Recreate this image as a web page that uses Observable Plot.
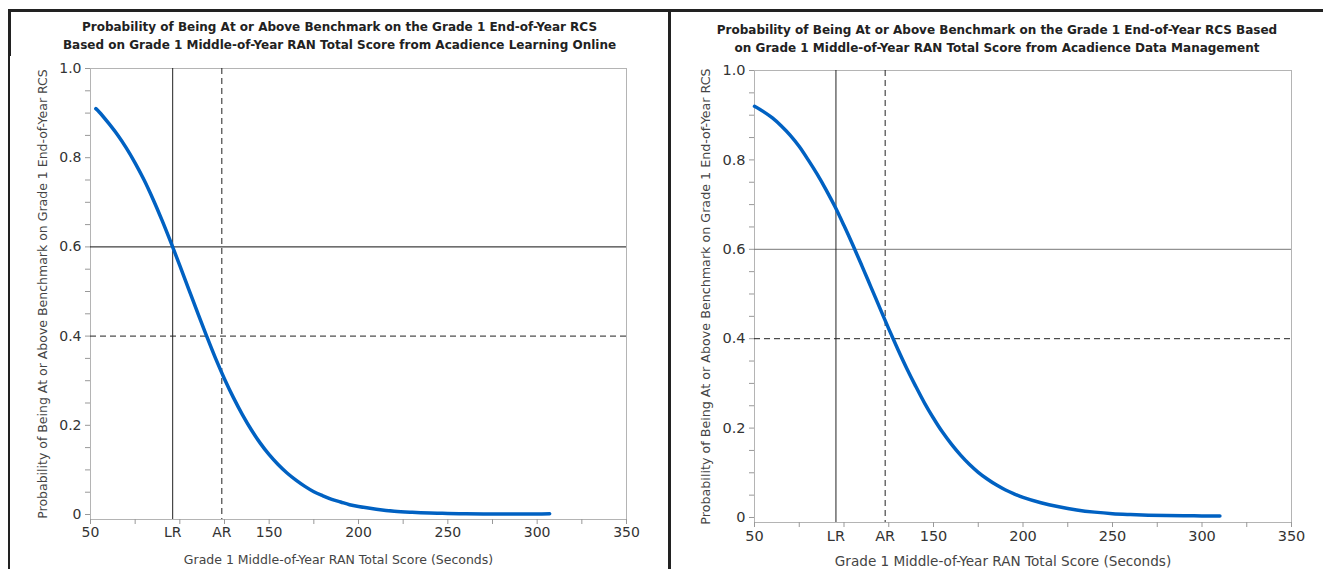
<!DOCTYPE html>
<html>
<head>
<meta charset="utf-8">
<script src="https://cdn.jsdelivr.net/npm/d3@7"></script>
<script src="https://cdn.jsdelivr.net/npm/@observablehq/plot@0.6"></script>
<style>
  html, body { margin: 0; padding: 0; background: #fff; overflow: hidden; }
  body { width: 1323px; height: 569px; position: relative; font-family: "DejaVu Sans", Verdana, sans-serif; }
  .border { position: absolute; background: #222; }
  .title { position: absolute; text-align: center; font-weight: bold; font-size: 12px; line-height: 18px; color: #222; white-space: nowrap; }
  .panel { position: absolute; }
  .panel svg { overflow: visible; }
</style>
</head>
<body>
<div class="border" style="left:8px;top:9px;width:1315px;height:3px;"></div>
<div class="border" style="left:8px;top:9px;width:3px;height:560px;"></div>
<div class="border" style="left:668px;top:9px;width:3px;height:560px;"></div>
<div class="title" id="t1" style="left:11px;top:18px;width:657px;"></div>
<div class="title" id="t2" style="left:671px;top:21px;width:652px;"></div>
<div class="panel" id="p1" style="left:10px;top:56px;"></div>
<div class="panel" id="p2" style="left:671px;top:58px;"></div>
<script>
// ---- Data ----
const leftTitle = ["Probability of Being At or Above Benchmark on the Grade 1 End-of-Year RCS",
                   "Based on Grade 1 Middle-of-Year RAN Total Score from Acadience Learning Online"];
const rightTitle = ["Probability of Being At or Above Benchmark on the Grade 1 End-of-Year RCS Based",
                    "on Grade 1 Middle-of-Year RAN Total Score from Acadience Data Management"];
const xAxisLabel = "Grade 1 Middle-of-Year RAN Total Score (Seconds)";
const yAxisLabel = "Probability of Being At or Above Benchmark on Grade 1 End-of-Year RCS";

const xTicks = [50, 75, 100, 125, 150, 175, 200, 225, 250, 275, 300, 325, 350];
const xLabelValues = [50, 150, 200, 250, 300, 350];
const xLabelTexts = ["50", "150", "200", "250", "300", "350"];
const yTicks = [0, 0.05, 0.1, 0.15, 0.2, 0.25, 0.3, 0.35, 0.4, 0.45, 0.5, 0.55, 0.6, 0.65, 0.7, 0.75, 0.8, 0.85, 0.9, 0.95, 1.0];
const yLabelValues = [0, 0.2, 0.4, 0.6, 0.8, 1.0];
const yLabelTexts = ["0", "0.2", "0.4", "0.6", "0.8", "1.0"];
const cutNames = ["LR", "AR"];

// Left panel (Acadience Learning Online)
const leftCuts = [96, 123.5];
const leftProbLines = [0.6, 0.4];
const leftX = [53, 55, 60, 65, 70, 75, 80, 85, 90, 95, 100, 105, 110, 115, 120, 125, 130, 135, 140, 145, 150, 155, 160, 165, 170, 175, 180, 185, 190, 195, 200, 210, 220, 230, 240, 250, 260, 270, 280, 290, 300, 307];
const leftP = [0.910, 0.902, 0.878, 0.852, 0.822, 0.788, 0.750, 0.707, 0.660, 0.610, 0.558, 0.505, 0.452, 0.400, 0.350, 0.304, 0.262, 0.224, 0.190, 0.160, 0.134, 0.112, 0.093, 0.077, 0.063, 0.051, 0.042, 0.034, 0.028, 0.022, 0.018, 0.012, 0.0075, 0.005, 0.0033, 0.0023, 0.0017, 0.0014, 0.0012, 0.0012, 0.0013, 0.0015];

// Right panel (Acadience Data Management)
const rightCuts = [95.5, 123];
const rightProbLines = [0.6, 0.4];
const rightX = [50, 55, 60, 65, 70, 75, 80, 85, 90, 95, 100, 105, 110, 115, 120, 125, 130, 135, 140, 145, 150, 155, 160, 165, 170, 175, 180, 185, 190, 195, 200, 210, 220, 230, 240, 250, 260, 270, 280, 290, 300, 310];
const rightP = [0.920, 0.908, 0.894, 0.876, 0.855, 0.830, 0.800, 0.768, 0.733, 0.695, 0.653, 0.609, 0.563, 0.516, 0.469, 0.422, 0.377, 0.334, 0.294, 0.256, 0.222, 0.191, 0.164, 0.140, 0.119, 0.101, 0.086, 0.073, 0.062, 0.053, 0.045, 0.033, 0.024, 0.017, 0.012, 0.0085, 0.0065, 0.005, 0.0042, 0.0038, 0.0036, 0.0036];

// ---- Drawing ----
function findLabel(values, texts, d) {
  const i = values.findIndex(v => Math.abs(v - d) < 1e-6);
  return i >= 0 ? texts[i] : "";
}

function makePanel(cfg) {
  return Plot.plot({
    width: cfg.width,
    height: cfg.height,
    marginLeft: cfg.ml, marginRight: cfg.mr, marginTop: cfg.mt, marginBottom: cfg.mb,
    style: { fontFamily: "DejaVu Sans, Verdana, sans-serif", fontSize: cfg.tickFs + "px", background: "#fff", color: "#333", overflow: "visible" },
    x: { domain: [50, 350], axis: null },
    y: { domain: [-0.0112, 1], axis: null },
    marks: [
      Plot.frame({ stroke: "#b4b4b4" }),
      Plot.axisY(yTicks, {
        anchor: "left", tickSize: 5, tickPadding: 4, stroke: "#999", fill: "#333", fontSize: cfg.tickFs,
        tickFormat: d => findLabel(yLabelValues, yLabelTexts, d), label: null
      }),
      Plot.axisX(xTicks, {
        anchor: "bottom", tickSize: 5, tickPadding: 3, stroke: "#999", fill: "#333", fontSize: cfg.tickFs,
        tickFormat: d => findLabel(xLabelValues, xLabelTexts, d), label: null
      }),
      Plot.axisX(cfg.cuts, {
        anchor: "bottom", tickSize: 0, tickPadding: 8, fill: "#333", fontSize: cfg.tickFs,
        tickFormat: d => findLabel(cfg.cuts, cutNames, d), label: null
      }),
      Plot.ruleY([cfg.probs[0]], { stroke: cfg.h6color, strokeWidth: 1 }),
      Plot.ruleY([cfg.probs[1]], { stroke: "#222", strokeWidth: 1, strokeDasharray: "6,4" }),
      Plot.ruleX([cfg.cuts[0]], { stroke: "#222", strokeWidth: 1 }),
      Plot.ruleX([cfg.cuts[1]], { stroke: "#222", strokeWidth: 1, strokeDasharray: "6,4" }),
      Plot.line(cfg.xs, { x: cfg.xs, y: cfg.ps, stroke: "#0061c2", strokeWidth: 3.5, curve: "catmull-rom", strokeLinecap: "round" }),
      Plot.text([xAxisLabel], { text: d => d, frameAnchor: "bottom", textAnchor: "middle", lineAnchor: "middle", dx: -20, dy: cfg.xlabDy, fontSize: cfg.xlabFs, fill: "#444" }),
      Plot.text([yAxisLabel], { text: d => d, frameAnchor: "left", textAnchor: "middle", lineAnchor: "middle", dx: cfg.ylabDx, rotate: -90, fontSize: cfg.ylabFs, fill: "#444" })
    ]
  });
}

document.getElementById("t1").innerHTML = leftTitle.join("<br>");
document.getElementById("t2").innerHTML = rightTitle.join("<br>");

document.getElementById("p1").append(makePanel({
  width: 650, height: 513, ml: 80, mr: 34, mt: 12, mb: 50,
  cuts: leftCuts, probs: leftProbLines, xs: leftX, ps: leftP, h6color: "#111",
  xlabDy: 40, ylabDx: -48, tickFs: 14, xlabFs: 12.5, ylabFs: 12.5
}));
document.getElementById("p2").append(makePanel({
  width: 650, height: 511, ml: 83, mr: 30, mt: 12, mb: 47,
  cuts: rightCuts, probs: rightProbLines, xs: rightX, ps: rightP, h6color: "#777",
  xlabDy: 39, ylabDx: -49, tickFs: 14.5, xlabFs: 13.6, ylabFs: 12.7
}));
</script>
</body>
</html>
